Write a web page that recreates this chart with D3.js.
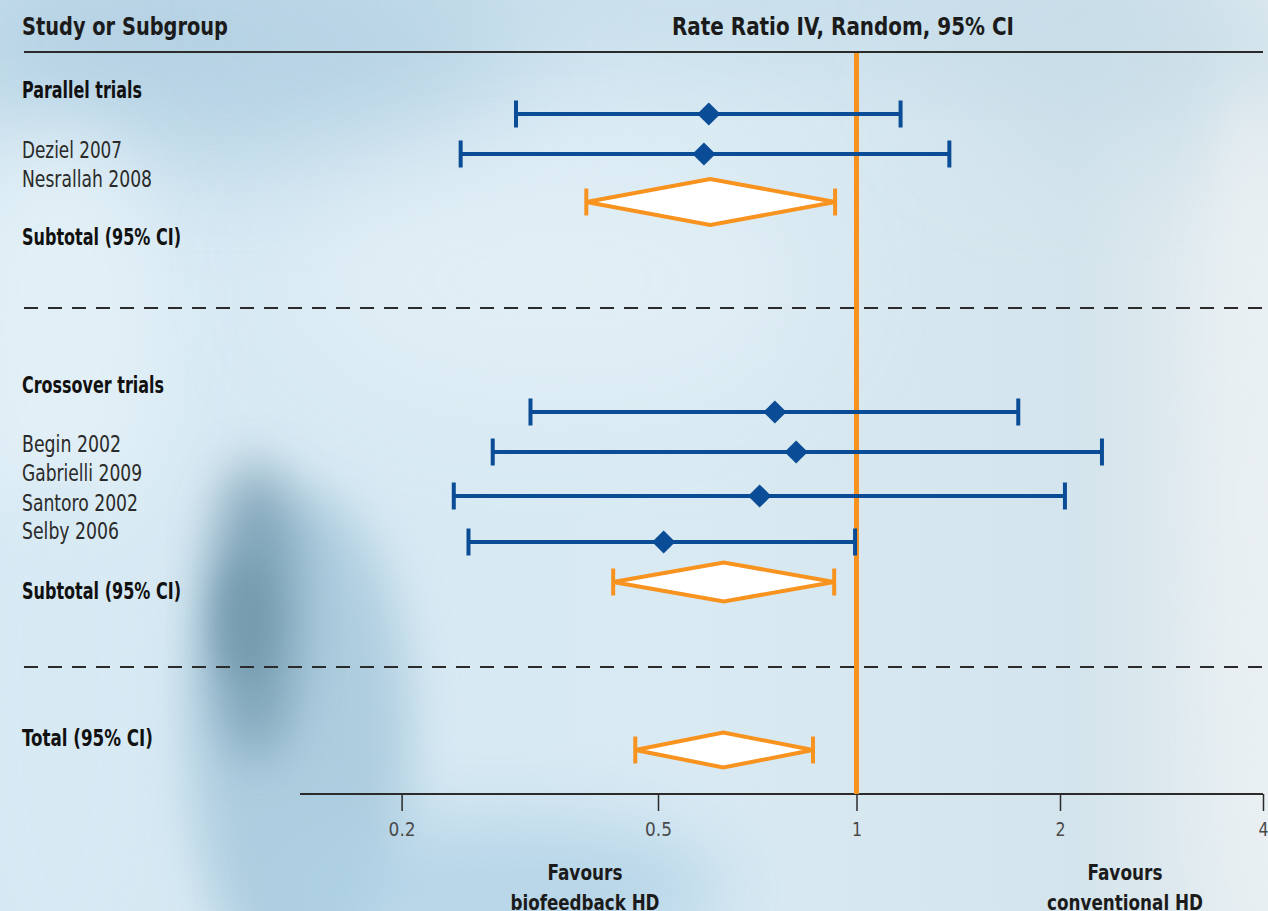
<!DOCTYPE html>
<html>
<head>
<meta charset="utf-8">
<script src="https://cdn.jsdelivr.net/npm/d3@7"></script>
<style>
  body { margin: 0; overflow: hidden; }
  text { font-family: "DejaVu Sans Condensed", "Liberation Sans Narrow", sans-serif; fill: #1b1b1b; }
</style>
</head>
<body>
<script>
// data ------------------------------------------------------------
const studies    = ["Deziel 2007", "Nesrallah 2008", "Begin 2002", "Gabrielli 2009", "Santoro 2002", "Selby 2006"];
const studyGroup = ["parallel", "parallel", "crossover", "crossover", "crossover", "crossover"];
const studyRR    = [0.597, 0.587, 0.752, 0.810, 0.713, 0.510];
const studyLow   = [0.301, 0.247, 0.317, 0.277, 0.241, 0.254];
const studyHigh  = [1.162, 1.372, 1.735, 2.308, 2.034, 0.995];

const summaries  = ["parallel", "crossover", "total"];
const sumRR      = [0.600, 0.629, 0.628];
const sumLow     = [0.387, 0.426, 0.461];
const sumHigh    = [0.928, 0.925, 0.859];

const tickValues = [0.2, 0.5, 1, 2, 4];

// layout ----------------------------------------------------------
const W = 1268, H = 911;
const axisY = 794, axisLeft = 300;
const studyY = {"Deziel 2007": 114, "Nesrallah 2008": 154, "Begin 2002": 412,
                "Gabrielli 2009": 452, "Santoro 2002": 496, "Selby 2006": 542};
const sumY = {parallel: 202, crossover: 582, total: 750};
const sumHalf = {parallel: 23, crossover: 19.5, total: 17.5};

// row labels: baseline and rendered width (the original face is a narrow one)
const labels = [
  {t: "Parallel trials", y: 98, w: 120, b: true},
  {t: "Deziel 2007", y: 158, w: 100},
  {t: "Nesrallah 2008", y: 187, w: 130},
  {t: "Subtotal (95% CI)", y: 245, w: 159, b: true},
  {t: "Crossover trials", y: 393, w: 142, b: true},
  {t: "Begin 2002", y: 452, w: 99},
  {t: "Gabrielli 2009", y: 481, w: 120},
  {t: "Santoro 2002", y: 511, w: 116},
  {t: "Selby 2006", y: 539, w: 97},
  {t: "Subtotal (95% CI)", y: 599, w: 159, b: true},
  {t: "Total (95% CI)", y: 746, w: 131, b: true}
];

const blue = "#0a4c95", orange = "#f7931e", ink = "#2b2b2b";

const svg = d3.select("body").append("svg")
    .attr("width", W).attr("height", H);

// background -------------------------------------------------------
const defs = svg.append("defs");
const lg = defs.append("linearGradient").attr("id", "bg");
lg.append("stop").attr("offset", "0").attr("stop-color", "#d6e9f3");
lg.append("stop").attr("offset", "0.55").attr("stop-color", "#d9eaf3");
lg.append("stop").attr("offset", "0.85").attr("stop-color", "#d4e4ec");
lg.append("stop").attr("offset", "1").attr("stop-color", "#e8eff2");

[["b60", 60], ["b40", 40], ["b25", 25], ["b15", 15]].forEach(([id, s]) => {
  defs.append("filter").attr("id", id)
      .attr("x", "-50%").attr("y", "-50%").attr("width", "200%").attr("height", "200%")
    .append("feGaussianBlur").attr("stdDeviation", s);
});

svg.append("rect").attr("width", W).attr("height", H).attr("fill", "url(#bg)");

const blobs = [
  {cx: 220, cy: 40,  rx: 300, ry: 120, c: "#afcee1", o: 0.85, f: "b60"},
  {cx: 750, cy: 0,   rx: 500, ry: 60,  c: "#bfd9e8", o: 0.8,  f: "b60"},
  {cx: 1150, cy: 60, rx: 200, ry: 100, c: "#c6dce7", o: 0.7,  f: "b60"},
  {cx: 60,  cy: 330, rx: 110, ry: 200, c: "#e3f0f7", o: 0.9,  f: "b40"},
  {cx: 550, cy: 280, rx: 260, ry: 120, c: "#e3eff6", o: 0.8,  f: "b60"},
  {cx: 300, cy: 740, rx: 110, ry: 250, c: "#a9cadd", o: 0.9,  f: "b25"},
  {cx: 500, cy: 890, rx: 230, ry: 70,  c: "#b0d2e6", o: 0.85, f: "b40"},
  {cx: 255, cy: 610, rx: 45,  ry: 150, c: "#7399ae", o: 0.8,  f: "b25"},
  {cx: 245, cy: 620, rx: 30,  ry: 60,  c: "#6f94a9", o: 0.6,  f: "b15"},
  {cx: 60,  cy: 700, rx: 70,  ry: 240, c: "#d8eaf4", o: 0.9,  f: "b15"},
  {cx: 1250, cy: 500, rx: 40, ry: 420, c: "#eaf0f3", o: 0.8,  f: "b25"}
];
svg.append("g").selectAll("ellipse").data(blobs).join("ellipse")
    .attr("cx", d => d.cx).attr("cy", d => d.cy)
    .attr("rx", d => d.rx).attr("ry", d => d.ry)
    .attr("fill", d => d.c).attr("opacity", d => d.o)
    .attr("filter", d => `url(#${d.f})`);

// scales -----------------------------------------------------------
const x = d3.scaleLog()
    .domain(tickValues)
    .range([401.6, 658, 856.5, 1060, 1263]);

// squeeze a text to a given width
const fit = (sel, w) => sel.attr("textLength", w).attr("lengthAdjust", "spacingAndGlyphs");

// header ----------------------------------------------------------
svg.append("text").attr("x", 22).attr("y", 35)
    .attr("font-size", 24).attr("font-weight", "bold")
    .text("Study or Subgroup").call(fit, 206);
svg.append("text").attr("x", 672).attr("y", 35)
    .attr("font-size", 24).attr("font-weight", "bold")
    .text("Rate Ratio IV, Random, 95% CI").call(fit, 342);
svg.append("line")
    .attr("x1", 24).attr("x2", 1263).attr("y1", 52).attr("y2", 52)
    .attr("stroke", ink).attr("stroke-width", 2);

// row labels
svg.append("g").selectAll("text").data(labels).join("text")
    .attr("x", 22).attr("y", d => d.y)
    .attr("font-size", 23)
    .attr("font-weight", d => d.b ? "bold" : "normal")
    .attr("fill", d => d.b ? "#111" : "#2a2a2a").style("fill", d => d.b ? "#111" : "#2a2a2a")
    .text(d => d.t)
    .attr("textLength", d => d.w).attr("lengthAdjust", "spacingAndGlyphs");

// separators
svg.append("g").selectAll("line").data([308, 667]).join("line")
    .attr("x1", 24).attr("x2", W).attr("y1", d => d).attr("y2", d => d)
    .attr("stroke", ink).attr("stroke-width", 2)
    .attr("stroke-dasharray", "14 10");

// axis -------------------------------------------------------------
const axis = svg.append("g")
    .attr("transform", `translate(0,${axisY})`)
    .call(d3.axisBottom(x).tickValues(tickValues).tickFormat(d3.format("")).tickSize(17).tickPadding(12));
axis.select(".domain").remove();
axis.selectAll(".tick line").attr("stroke", ink).attr("stroke-width", 1.5);
axis.selectAll(".tick text")
    .attr("font-family", "'DejaVu Sans Condensed', sans-serif")
    .attr("font-size", 19).attr("font-weight", 300)
    .style("fill", "#4a4a4a")
    .each(function(d) { d3.select(this).call(fit, String(d).length > 1 ? 27 : 10); });
svg.append("line")
    .attr("x1", axisLeft).attr("x2", x(4)).attr("y1", axisY).attr("y2", axisY)
    .attr("stroke", ink).attr("stroke-width", 2);

// line of no effect
svg.append("line")
    .attr("x1", x(1)).attr("x2", x(1)).attr("y1", 53).attr("y2", axisY)
    .attr("stroke", orange).attr("stroke-width", 5);

// favours labels
[[585, "Favours", "biofeedback HD", 149], [1125, "Favours", "conventional HD", 156]].forEach(([cx, a, b, wb]) => {
  const t = svg.append("text").attr("y", 880)
      .attr("text-anchor", "middle").attr("font-size", 22).attr("font-weight", "bold");
  t.append("tspan").attr("x", cx).text(a).call(fit, 75);
  t.append("tspan").attr("x", cx).attr("dy", 30).text(b).call(fit, wb);
});

// study CIs ---------------------------------------------------------
const rows = studies.map((s, i) => ({name: s, group: studyGroup[i], rr: studyRR[i], lo: studyLow[i], hi: studyHigh[i]}));
const g = svg.append("g");
const cap = 13.5;
rows.forEach(d => {
  const y = studyY[d.name];
  g.append("line").attr("x1", x(d.lo)).attr("x2", x(d.hi)).attr("y1", y).attr("y2", y)
      .attr("stroke", blue).attr("stroke-width", 4);
  [d.lo, d.hi].forEach(v => {
    g.append("line").attr("x1", x(v)).attr("x2", x(v)).attr("y1", y - cap).attr("y2", y + cap)
        .attr("stroke", blue).attr("stroke-width", 4);
  });
  g.append("path")
      .attr("d", d3.symbol(d3.symbolSquare, 270)())
      .attr("transform", `translate(${x(d.rr)},${y}) rotate(45)`)
      .attr("fill", blue);
});

// pooled diamonds ---------------------------------------------------
const pooled = summaries.map((s, i) => ({name: s, rr: sumRR[i], lo: sumLow[i], hi: sumHigh[i]}));
pooled.forEach(d => {
  const y = sumY[d.name], h = sumHalf[d.name];
  g.append("path")
      .attr("d", `M${x(d.lo)},${y}L${x(d.rr)},${y - h}L${x(d.hi)},${y}L${x(d.rr)},${y + h}Z`)
      .attr("fill", "#fff").attr("stroke", orange).attr("stroke-width", 4)
      .attr("stroke-linejoin", "miter");
  [d.lo, d.hi].forEach(v => {
    g.append("line").attr("x1", x(v)).attr("x2", x(v)).attr("y1", y - cap).attr("y2", y + cap)
        .attr("stroke", orange).attr("stroke-width", 4);
  });
});
</script>
</body>
</html>
